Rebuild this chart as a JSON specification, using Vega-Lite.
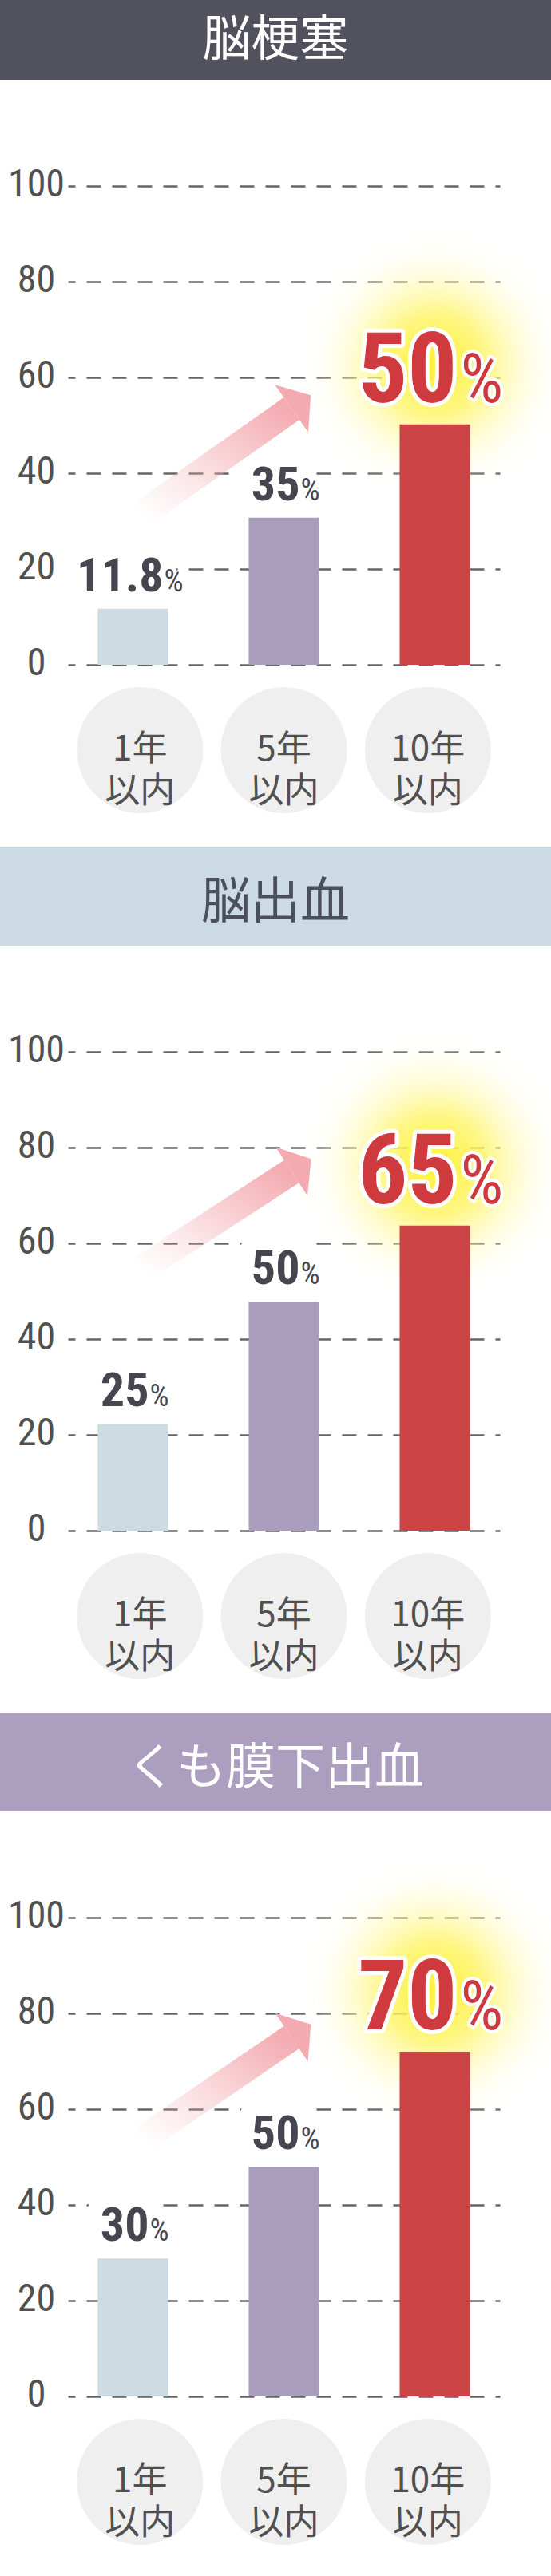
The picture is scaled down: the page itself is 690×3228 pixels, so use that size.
{
  "$schema": "https://vega.github.io/schema/vega-lite/v6.json",
  "padding": 0,
  "background": "white",
  "config": {"view": {"stroke": null}},
  "datasets": {
    "p1": [{"cat": "1年以内", "value": 11.7, "num": "11.8"}, {"cat": "5年以内", "value": 30.7, "num": "35"}, {"cat": "10年以内", "value": 50.2, "num": "50"}],
    "p2": [{"cat": "1年以内", "value": 22.3, "num": "25"}, {"cat": "5年以内", "value": 47.8, "num": "50"}, {"cat": "10年以内", "value": 63.7, "num": "65"}],
    "p3": [{"cat": "1年以内", "value": 28.8, "num": "30"}, {"cat": "5年以内", "value": 48, "num": "50"}, {"cat": "10年以内", "value": 72, "num": "70"}],
    "a1": [{"cat": "1年以内", "value": 31.3}, {"cat": "5年以内", "value": 53.5}],
    "a2": [{"cat": "1年以内", "value": 54.5}, {"cat": "5年以内", "value": 75}],
    "a3": [{"cat": "1年以内", "value": 53.5}, {"cat": "5年以内", "value": 75}],
    "cats": [{"cat": "1年以内", "label": "1年\n以内"}, {"cat": "5年以内", "label": "5年\n以内"}, {"cat": "10年以内", "label": "10年\n以内"}]
  },
  "spacing": 14,
  "vconcat": [
    {
      "spacing": 0,
      "bounds": "flush",
      "vconcat": [
        {"width": 690, "height": 100, "view": {"fill": "#52525e", "stroke": null},
         "data": {"values": [{"title": "脳梗塞"}]},
         "mark": {"type": "text", "font": "Noto Sans CJK JP", "fontSize": 61, "color": "#ffffff", "baseline": "middle", "dy": 2},
         "encoding": {"text": {"field": "title", "type": "nominal"}}},
        {"width": 690, "height": 733, "data": {"name": "p1"},
         "resolve": {"scale": {"y": "independent"}},
         "layer": [
          {"transform": [{"filter": "datum.cat === '10年以内'"}],
           "mark": {"type": "point", "shape": "circle", "filled": true, "size": 129600, "opacity": 1, "strokeWidth": 0,
                    "fill": {"gradient": "radial", "stops": [{"offset": 0, "color": "rgba(255,240,50,1)"}, {"offset": 0.35, "color": "rgba(255,244,100,0.8)"}, {"offset": 0.6, "color": "rgba(255,249,170,0.45)"}, {"offset": 0.82, "color": "rgba(255,253,225,0.15)"}, {"offset": 1, "color": "rgba(255,255,255,0)"}]}},
           "encoding": {"x": {"field": "cat", "type": "nominal", "scale": {"domain": ["1年以内", "5年以内", "10年以内"], "range": [85, 626], "paddingInner": 0.534, "paddingOuter": 0.198}, "axis": null},
                        "y": {"field": "value", "type": "quantitative", "scale": {"domain": [-12.5, 109.67], "nice": false, "zero": false}, "axis": null}}},
          {"encoding": {
             "x": {"field": "cat", "type": "nominal", "scale": {"domain": ["1年以内", "5年以内", "10年以内"], "range": [85, 626], "paddingInner": 0.534, "paddingOuter": 0.198}, "axis": null},
             "y": {"field": "value", "type": "quantitative", "scale": {"domain": [0, 122.17], "nice": false, "zero": false}, "title": null,
                   "axis": {"values": [0, 20, 40, 60, 80, 100], "grid": true, "gridColor": "#666666", "gridDash": [18, 14], "gridDashOffset": 9, "gridWidth": 2.5, "domain": false, "ticks": false, "labelFont": "Liberation Sans Narrow, Arial Narrow, Roboto Condensed, Liberation Sans, sans-serif", "labelFontSize": 48, "labelColor": "#505050", "labelPadding": 39, "offset": -84, "title": null, "labelAlign": "center", "labelBaseline": "middle", "labelOffset": -2}}},
           "layer": [
            {"transform": [{"filter": "datum.cat !== '10年以内' && length(datum.num) <= 2"}],
             "mark": {"type": "text", "font": "Liberation Sans Narrow, Arial Narrow, Roboto Condensed, Liberation Sans, sans-serif", "fontSize": 60, "fontWeight": "bold", "align": "right", "baseline": "alphabetic", "dx": 20, "dy": -22, "fill": "white", "stroke": "white", "strokeWidth": 40, "strokeJoin": "round"},
             "encoding": {"text": {"field": "num", "type": "nominal"}}},
            {"transform": [{"filter": "datum.cat !== '10年以内' && length(datum.num) > 2"}],
             "mark": {"type": "text", "font": "Liberation Sans Narrow, Arial Narrow, Roboto Condensed, Liberation Sans, sans-serif", "fontSize": 60, "fontWeight": "bold", "align": "right", "baseline": "alphabetic", "dx": 38, "dy": -22, "fill": "white", "stroke": "white", "strokeWidth": 40, "strokeJoin": "round"},
             "encoding": {"text": {"field": "num", "type": "nominal"}}},
            {"data": {"name": "a1"},
             "mark": {"type": "line", "strokeWidth": 34, "strokeCap": "butt", "stroke": {"gradient": "linear", "x1": 0, "y1": 1, "x2": 1, "y2": 0, "stops": [{"offset": 0, "color": "rgba(243,170,176,0)"}, {"offset": 0.3, "color": "rgba(243,170,176,0.25)"}, {"offset": 1, "color": "rgba(243,170,176,1)"}]}},
             "encoding": {"x": {"field": "cat", "type": "nominal", "bandPosition": 0.61, "axis": null}}},
            {"data": {"name": "a1"}, "transform": [{"filter": "datum.cat === '5年以内'"}],
             "mark": {"type": "point", "shape": "M0,-1L0.8,0L0,1Z", "filled": true, "size": 5300, "angle": -35, "opacity": 1, "fill": "#f3aab0", "strokeWidth": 0},
             "encoding": {"x": {"field": "cat", "type": "nominal", "bandPosition": 0.61, "axis": null}}},
            {"mark": {"type": "bar"},
             "encoding": {"color": {"field": "cat", "type": "nominal", "scale": {"domain": ["1年以内", "5年以内", "10年以内"], "range": ["#ccdae2", "#a99dbd", "#cc4346"]}, "legend": null}}},
            {"transform": [{"filter": "datum.cat !== '10年以内' && length(datum.num) <= 2"}],
             "mark": {"type": "text", "font": "Liberation Sans Narrow, Arial Narrow, Roboto Condensed, Liberation Sans, sans-serif", "fontSize": 60, "fontWeight": "bold", "align": "right", "baseline": "alphabetic", "dx": 20, "dy": -22, "fill": "#45464f"},
             "encoding": {"text": {"field": "num", "type": "nominal"}}},
            {"transform": [{"filter": "datum.cat !== '10年以内' && length(datum.num) > 2"}],
             "mark": {"type": "text", "font": "Liberation Sans Narrow, Arial Narrow, Roboto Condensed, Liberation Sans, sans-serif", "fontSize": 60, "fontWeight": "bold", "align": "right", "baseline": "alphabetic", "dx": 38, "dy": -22, "fill": "#45464f"},
             "encoding": {"text": {"field": "num", "type": "nominal"}}},
            {"transform": [{"filter": "datum.cat !== '10年以内' && length(datum.num) <= 2"}],
             "mark": {"type": "text", "font": "Liberation Sans Narrow, Arial Narrow, Roboto Condensed, Liberation Sans, sans-serif", "fontSize": 38, "align": "left", "baseline": "alphabetic", "dx": 21, "dy": -22, "fill": "#45464f", "text": "%"}},
            {"transform": [{"filter": "datum.cat !== '10年以内' && length(datum.num) > 2"}],
             "mark": {"type": "text", "font": "Liberation Sans Narrow, Arial Narrow, Roboto Condensed, Liberation Sans, sans-serif", "fontSize": 38, "align": "left", "baseline": "alphabetic", "dx": 39, "dy": -22, "fill": "#45464f", "text": "%"}},
            {"transform": [{"filter": "datum.cat === '10年以内'"}],
             "mark": {"type": "text", "font": "Liberation Sans Narrow, Arial Narrow, Roboto Condensed, Liberation Sans, sans-serif", "fontSize": 123, "fontWeight": "bold", "align": "right", "baseline": "alphabetic", "dx": 28, "dy": -28, "fill": "#cf3a3f", "stroke": "white", "strokeWidth": 10, "strokeJoin": "round"},
             "encoding": {"text": {"field": "num", "type": "nominal"}}},
            {"transform": [{"filter": "datum.cat === '10年以内'"}],
             "mark": {"type": "text", "font": "Liberation Sans Narrow, Arial Narrow, Roboto Condensed, Liberation Sans, sans-serif", "fontSize": 123, "fontWeight": "bold", "align": "right", "baseline": "alphabetic", "dx": 28, "dy": -28, "fill": "#cf3a3f"},
             "encoding": {"text": {"field": "num", "type": "nominal"}}},
            {"transform": [{"filter": "datum.cat === '10年以内'"}],
             "mark": {"type": "text", "font": "Liberation Sans Narrow, Arial Narrow, Roboto Condensed, Liberation Sans, sans-serif", "fontSize": 85, "align": "left", "baseline": "alphabetic", "dx": 32, "dy": -28, "fill": "#cf3a3f", "stroke": "white", "strokeWidth": 8, "strokeJoin": "round", "text": "%"}},
            {"transform": [{"filter": "datum.cat === '10年以内'"}],
             "mark": {"type": "text", "font": "Liberation Sans Narrow, Arial Narrow, Roboto Condensed, Liberation Sans, sans-serif", "fontSize": 85, "align": "left", "baseline": "alphabetic", "dx": 32, "dy": -28, "fill": "#cf3a3f", "text": "%"}}
           ]}
         ]},
        {"width": 690, "height": 214, "data": {"name": "cats"},
         "encoding": {"x": {"field": "cat", "type": "nominal", "scale": {"domain": ["1年以内", "5年以内", "10年以内"], "range": [85, 626], "paddingInner": 0.534, "paddingOuter": 0.198}, "axis": null}},
         "layer": [
          {"mark": {"type": "point", "shape": "circle", "filled": true, "size": 24964, "color": "#efefef", "opacity": 1}},
          {"mark": {"type": "text", "lineBreak": "\n", "font": "Noto Sans CJK JP", "fontSize": 44, "lineHeight": 53, "color": "#505050", "baseline": "middle"},
           "encoding": {"text": {"field": "label", "type": "nominal"}}}
         ]}
      ]
    },
    {
      "spacing": 0,
      "bounds": "flush",
      "vconcat": [
        {"width": 690, "height": 124, "view": {"fill": "#ccdae3", "stroke": null},
         "data": {"values": [{"title": "脳出血"}]},
         "mark": {"type": "text", "font": "Noto Sans CJK JP", "fontSize": 62, "color": "#4b4f5d", "baseline": "middle", "dy": 9},
         "encoding": {"text": {"field": "title", "type": "nominal"}}},
        {"width": 690, "height": 733, "data": {"name": "p2"},
         "resolve": {"scale": {"y": "independent"}},
         "layer": [
          {"transform": [{"filter": "datum.cat === '10年以内'"}],
           "mark": {"type": "point", "shape": "circle", "filled": true, "size": 129600, "opacity": 1, "strokeWidth": 0,
                    "fill": {"gradient": "radial", "stops": [{"offset": 0, "color": "rgba(255,240,50,1)"}, {"offset": 0.35, "color": "rgba(255,244,100,0.8)"}, {"offset": 0.6, "color": "rgba(255,249,170,0.45)"}, {"offset": 0.82, "color": "rgba(255,253,225,0.15)"}, {"offset": 1, "color": "rgba(255,255,255,0)"}]}},
           "encoding": {"x": {"field": "cat", "type": "nominal", "scale": {"domain": ["1年以内", "5年以内", "10年以内"], "range": [85, 626], "paddingInner": 0.534, "paddingOuter": 0.198}, "axis": null},
                        "y": {"field": "value", "type": "quantitative", "scale": {"domain": [-12.5, 109.67], "nice": false, "zero": false}, "axis": null}}},
          {"encoding": {
             "x": {"field": "cat", "type": "nominal", "scale": {"domain": ["1年以内", "5年以内", "10年以内"], "range": [85, 626], "paddingInner": 0.534, "paddingOuter": 0.198}, "axis": null},
             "y": {"field": "value", "type": "quantitative", "scale": {"domain": [0, 122.17], "nice": false, "zero": false}, "title": null,
                   "axis": {"values": [0, 20, 40, 60, 80, 100], "grid": true, "gridColor": "#666666", "gridDash": [18, 14], "gridDashOffset": 9, "gridWidth": 2.5, "domain": false, "ticks": false, "labelFont": "Liberation Sans Narrow, Arial Narrow, Roboto Condensed, Liberation Sans, sans-serif", "labelFontSize": 48, "labelColor": "#505050", "labelPadding": 39, "offset": -84, "title": null, "labelAlign": "center", "labelBaseline": "middle", "labelOffset": -2}}},
           "layer": [
            {"transform": [{"filter": "datum.cat !== '10年以内'"}],
             "mark": {"type": "text", "font": "Liberation Sans Narrow, Arial Narrow, Roboto Condensed, Liberation Sans, sans-serif", "fontSize": 60, "fontWeight": "bold", "align": "right", "baseline": "alphabetic", "dx": 20, "dy": -22, "fill": "white", "stroke": "white", "strokeWidth": 40, "strokeJoin": "round"},
             "encoding": {"text": {"field": "num", "type": "nominal"}}},
            {"data": {"name": "a2"},
             "mark": {"type": "line", "strokeWidth": 34, "strokeCap": "butt", "stroke": {"gradient": "linear", "x1": 0, "y1": 1, "x2": 1, "y2": 0, "stops": [{"offset": 0, "color": "rgba(243,170,176,0)"}, {"offset": 0.3, "color": "rgba(243,170,176,0.25)"}, {"offset": 1, "color": "rgba(243,170,176,1)"}]}},
             "encoding": {"x": {"field": "cat", "type": "nominal", "bandPosition": 0.61, "axis": null}}},
            {"data": {"name": "a2"}, "transform": [{"filter": "datum.cat === '5年以内'"}],
             "mark": {"type": "point", "shape": "M0,-1L0.8,0L0,1Z", "filled": true, "size": 5300, "angle": -33, "opacity": 1, "fill": "#f3aab0", "strokeWidth": 0},
             "encoding": {"x": {"field": "cat", "type": "nominal", "bandPosition": 0.61, "axis": null}}},
            {"mark": {"type": "bar"},
             "encoding": {"color": {"field": "cat", "type": "nominal", "scale": {"domain": ["1年以内", "5年以内", "10年以内"], "range": ["#ccdae2", "#a99dbd", "#cc4346"]}, "legend": null}}},
            {"transform": [{"filter": "datum.cat !== '10年以内'"}],
             "mark": {"type": "text", "font": "Liberation Sans Narrow, Arial Narrow, Roboto Condensed, Liberation Sans, sans-serif", "fontSize": 60, "fontWeight": "bold", "align": "right", "baseline": "alphabetic", "dx": 20, "dy": -22, "fill": "#45464f"},
             "encoding": {"text": {"field": "num", "type": "nominal"}}},
            {"transform": [{"filter": "datum.cat !== '10年以内'"}],
             "mark": {"type": "text", "font": "Liberation Sans Narrow, Arial Narrow, Roboto Condensed, Liberation Sans, sans-serif", "fontSize": 38, "align": "left", "baseline": "alphabetic", "dx": 21, "dy": -22, "fill": "#45464f", "text": "%"}},
            {"transform": [{"filter": "datum.cat === '10年以内'"}],
             "mark": {"type": "text", "font": "Liberation Sans Narrow, Arial Narrow, Roboto Condensed, Liberation Sans, sans-serif", "fontSize": 123, "fontWeight": "bold", "align": "right", "baseline": "alphabetic", "dx": 28, "dy": -28, "fill": "#cf3a3f", "stroke": "white", "strokeWidth": 10, "strokeJoin": "round"},
             "encoding": {"text": {"field": "num", "type": "nominal"}}},
            {"transform": [{"filter": "datum.cat === '10年以内'"}],
             "mark": {"type": "text", "font": "Liberation Sans Narrow, Arial Narrow, Roboto Condensed, Liberation Sans, sans-serif", "fontSize": 123, "fontWeight": "bold", "align": "right", "baseline": "alphabetic", "dx": 28, "dy": -28, "fill": "#cf3a3f"},
             "encoding": {"text": {"field": "num", "type": "nominal"}}},
            {"transform": [{"filter": "datum.cat === '10年以内'"}],
             "mark": {"type": "text", "font": "Liberation Sans Narrow, Arial Narrow, Roboto Condensed, Liberation Sans, sans-serif", "fontSize": 85, "align": "left", "baseline": "alphabetic", "dx": 32, "dy": -28, "fill": "#cf3a3f", "stroke": "white", "strokeWidth": 8, "strokeJoin": "round", "text": "%"}},
            {"transform": [{"filter": "datum.cat === '10年以内'"}],
             "mark": {"type": "text", "font": "Liberation Sans Narrow, Arial Narrow, Roboto Condensed, Liberation Sans, sans-serif", "fontSize": 85, "align": "left", "baseline": "alphabetic", "dx": 32, "dy": -28, "fill": "#cf3a3f", "text": "%"}}
           ]}
         ]},
        {"width": 690, "height": 214, "data": {"name": "cats"},
         "encoding": {"x": {"field": "cat", "type": "nominal", "scale": {"domain": ["1年以内", "5年以内", "10年以内"], "range": [85, 626], "paddingInner": 0.534, "paddingOuter": 0.198}, "axis": null}},
         "layer": [
          {"mark": {"type": "point", "shape": "circle", "filled": true, "size": 24964, "color": "#efefef", "opacity": 1}},
          {"mark": {"type": "text", "lineBreak": "\n", "font": "Noto Sans CJK JP", "fontSize": 44, "lineHeight": 53, "color": "#505050", "baseline": "middle"},
           "encoding": {"text": {"field": "label", "type": "nominal"}}}
         ]}
      ]
    },
    {
      "spacing": 0,
      "bounds": "flush",
      "vconcat": [
        {"width": 690, "height": 124, "view": {"fill": "#ab9ebf", "stroke": null},
         "data": {"values": [{"title": "くも膜下出血"}]},
         "mark": {"type": "text", "font": "Noto Sans CJK JP", "fontSize": 62, "color": "#ffffff", "baseline": "middle", "dy": 9},
         "encoding": {"text": {"field": "title", "type": "nominal"}}},
        {"width": 690, "height": 733, "data": {"name": "p3"},
         "resolve": {"scale": {"y": "independent"}},
         "layer": [
          {"transform": [{"filter": "datum.cat === '10年以内'"}],
           "mark": {"type": "point", "shape": "circle", "filled": true, "size": 129600, "opacity": 1, "strokeWidth": 0,
                    "fill": {"gradient": "radial", "stops": [{"offset": 0, "color": "rgba(255,240,50,1)"}, {"offset": 0.35, "color": "rgba(255,244,100,0.8)"}, {"offset": 0.6, "color": "rgba(255,249,170,0.45)"}, {"offset": 0.82, "color": "rgba(255,253,225,0.15)"}, {"offset": 1, "color": "rgba(255,255,255,0)"}]}},
           "encoding": {"x": {"field": "cat", "type": "nominal", "scale": {"domain": ["1年以内", "5年以内", "10年以内"], "range": [85, 626], "paddingInner": 0.534, "paddingOuter": 0.198}, "axis": null},
                        "y": {"field": "value", "type": "quantitative", "scale": {"domain": [-12.5, 109.67], "nice": false, "zero": false}, "axis": null}}},
          {"encoding": {
             "x": {"field": "cat", "type": "nominal", "scale": {"domain": ["1年以内", "5年以内", "10年以内"], "range": [85, 626], "paddingInner": 0.534, "paddingOuter": 0.198}, "axis": null},
             "y": {"field": "value", "type": "quantitative", "scale": {"domain": [0, 122.17], "nice": false, "zero": false}, "title": null,
                   "axis": {"values": [0, 20, 40, 60, 80, 100], "grid": true, "gridColor": "#666666", "gridDash": [18, 14], "gridDashOffset": 9, "gridWidth": 2.5, "domain": false, "ticks": false, "labelFont": "Liberation Sans Narrow, Arial Narrow, Roboto Condensed, Liberation Sans, sans-serif", "labelFontSize": 48, "labelColor": "#505050", "labelPadding": 39, "offset": -84, "title": null, "labelAlign": "center", "labelBaseline": "middle", "labelOffset": -2}}},
           "layer": [
            {"transform": [{"filter": "datum.cat !== '10年以内'"}],
             "mark": {"type": "text", "font": "Liberation Sans Narrow, Arial Narrow, Roboto Condensed, Liberation Sans, sans-serif", "fontSize": 60, "fontWeight": "bold", "align": "right", "baseline": "alphabetic", "dx": 20, "dy": -22, "fill": "white", "stroke": "white", "strokeWidth": 40, "strokeJoin": "round"},
             "encoding": {"text": {"field": "num", "type": "nominal"}}},
            {"data": {"name": "a3"},
             "mark": {"type": "line", "strokeWidth": 34, "strokeCap": "butt", "stroke": {"gradient": "linear", "x1": 0, "y1": 1, "x2": 1, "y2": 0, "stops": [{"offset": 0, "color": "rgba(243,170,176,0)"}, {"offset": 0.3, "color": "rgba(243,170,176,0.25)"}, {"offset": 1, "color": "rgba(243,170,176,1)"}]}},
             "encoding": {"x": {"field": "cat", "type": "nominal", "bandPosition": 0.61, "axis": null}}},
            {"data": {"name": "a3"}, "transform": [{"filter": "datum.cat === '5年以内'"}],
             "mark": {"type": "point", "shape": "M0,-1L0.8,0L0,1Z", "filled": true, "size": 5300, "angle": -34, "opacity": 1, "fill": "#f3aab0", "strokeWidth": 0},
             "encoding": {"x": {"field": "cat", "type": "nominal", "bandPosition": 0.61, "axis": null}}},
            {"mark": {"type": "bar"},
             "encoding": {"color": {"field": "cat", "type": "nominal", "scale": {"domain": ["1年以内", "5年以内", "10年以内"], "range": ["#ccdae2", "#a99dbd", "#cc4346"]}, "legend": null}}},
            {"transform": [{"filter": "datum.cat !== '10年以内'"}],
             "mark": {"type": "text", "font": "Liberation Sans Narrow, Arial Narrow, Roboto Condensed, Liberation Sans, sans-serif", "fontSize": 60, "fontWeight": "bold", "align": "right", "baseline": "alphabetic", "dx": 20, "dy": -22, "fill": "#45464f"},
             "encoding": {"text": {"field": "num", "type": "nominal"}}},
            {"transform": [{"filter": "datum.cat !== '10年以内'"}],
             "mark": {"type": "text", "font": "Liberation Sans Narrow, Arial Narrow, Roboto Condensed, Liberation Sans, sans-serif", "fontSize": 38, "align": "left", "baseline": "alphabetic", "dx": 21, "dy": -22, "fill": "#45464f", "text": "%"}},
            {"transform": [{"filter": "datum.cat === '10年以内'"}],
             "mark": {"type": "text", "font": "Liberation Sans Narrow, Arial Narrow, Roboto Condensed, Liberation Sans, sans-serif", "fontSize": 123, "fontWeight": "bold", "align": "right", "baseline": "alphabetic", "dx": 28, "dy": -28, "fill": "#cf3a3f", "stroke": "white", "strokeWidth": 10, "strokeJoin": "round"},
             "encoding": {"text": {"field": "num", "type": "nominal"}}},
            {"transform": [{"filter": "datum.cat === '10年以内'"}],
             "mark": {"type": "text", "font": "Liberation Sans Narrow, Arial Narrow, Roboto Condensed, Liberation Sans, sans-serif", "fontSize": 123, "fontWeight": "bold", "align": "right", "baseline": "alphabetic", "dx": 28, "dy": -28, "fill": "#cf3a3f"},
             "encoding": {"text": {"field": "num", "type": "nominal"}}},
            {"transform": [{"filter": "datum.cat === '10年以内'"}],
             "mark": {"type": "text", "font": "Liberation Sans Narrow, Arial Narrow, Roboto Condensed, Liberation Sans, sans-serif", "fontSize": 85, "align": "left", "baseline": "alphabetic", "dx": 32, "dy": -28, "fill": "#cf3a3f", "stroke": "white", "strokeWidth": 8, "strokeJoin": "round", "text": "%"}},
            {"transform": [{"filter": "datum.cat === '10年以内'"}],
             "mark": {"type": "text", "font": "Liberation Sans Narrow, Arial Narrow, Roboto Condensed, Liberation Sans, sans-serif", "fontSize": 85, "align": "left", "baseline": "alphabetic", "dx": 32, "dy": -28, "fill": "#cf3a3f", "text": "%"}}
           ]}
         ]},
        {"width": 690, "height": 214, "data": {"name": "cats"},
         "encoding": {"x": {"field": "cat", "type": "nominal", "scale": {"domain": ["1年以内", "5年以内", "10年以内"], "range": [85, 626], "paddingInner": 0.534, "paddingOuter": 0.198}, "axis": null}},
         "layer": [
          {"mark": {"type": "point", "shape": "circle", "filled": true, "size": 24964, "color": "#efefef", "opacity": 1}},
          {"mark": {"type": "text", "lineBreak": "\n", "font": "Noto Sans CJK JP", "fontSize": 44, "lineHeight": 53, "color": "#505050", "baseline": "middle"},
           "encoding": {"text": {"field": "label", "type": "nominal"}}}
         ]}
      ]
    }
  ]
}
